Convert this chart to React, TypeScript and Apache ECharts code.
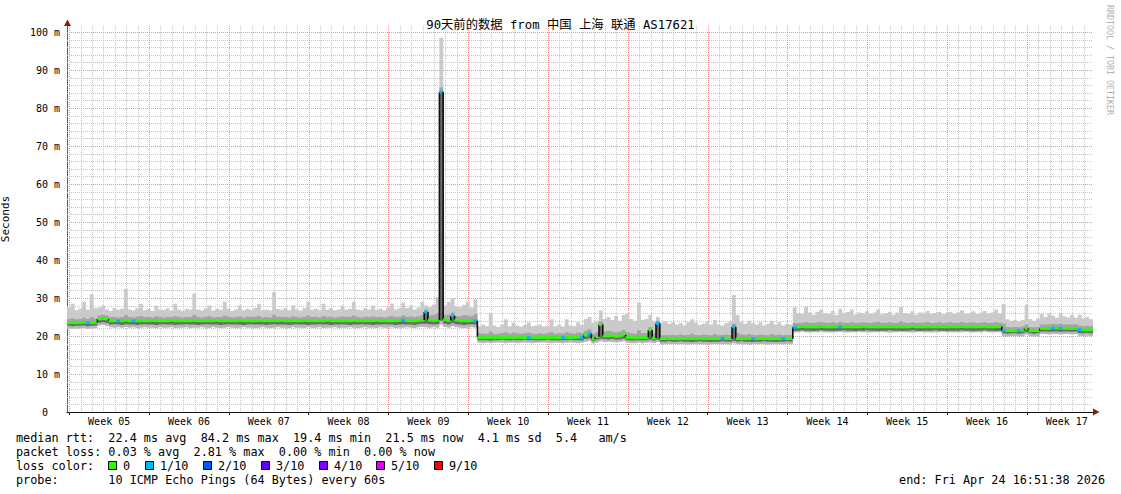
import React, { useEffect, useRef } from "react";
import * as echarts from "echarts";

// ---------- data ----------
const SAMPLES_PER_DAY = 3; // one sample every 8 hours
const DAYS = 90;
const Y_MAX = 101.6;
const FIRST_WEEK_LINE = 0.2; // day offset of first Monday grid line

const titleText = "90天前的数据 from 中国 上海 联通 AS17621";
const weekLabels = ["Week 05", "Week 06", "Week 07", "Week 08", "Week 09", "Week 10", "Week 11", "Week 12", "Week 13", "Week 14", "Week 15", "Week 16", "Week 17"];
const yTickValues = [0, 10, 20, 30, 40, 50, 60, 70, 80, 90, 100];

const medRtt = [
  23.5,23.5,23.5,23.5,23.6,23.5,23.5,23.6,24.5,24.6,
  24.5,24.0,24.0,24.0,24.0,24.1,24.0,24.0,24.0,24.0,
  24.0,24.0,24.1,24.0,24.0,24.0,24.0,24.1,24.0,24.0,
  24.0,24.0,24.0,24.1,24.0,24.0,24.0,24.0,24.0,24.1,
  24.0,24.0,24.0,24.0,24.0,24.1,24.0,24.0,24.0,24.0,
  24.1,24.0,24.0,24.0,24.0,24.0,24.1,24.0,24.0,24.0,
  24.0,24.0,24.1,24.0,24.0,24.0,24.0,24.0,24.1,24.0,
  24.0,24.0,24.0,24.0,24.0,24.1,24.0,24.0,24.0,24.0,
  24.0,24.1,24.0,24.0,24.0,24.0,24.0,24.1,24.2,24.0,
  24.0,24.0,24.1,24.2,26.3,24.2,24.1,24.2,84.2,24.3,
  24.1,25.3,24.2,24.0,24.0,24.0,24.1,24.0,19.6,19.6,
  19.6,19.6,19.5,19.6,19.6,19.6,19.6,19.5,19.6,19.6,
  19.6,19.6,19.6,19.5,19.6,19.6,19.6,19.6,19.6,19.5,
  19.6,19.6,19.6,19.6,19.7,19.6,20.2,20.6,19.2,19.8,
  23.0,20.0,20.0,20.1,19.9,20.0,20.3,19.6,19.6,19.5,
  19.6,19.6,19.6,21.6,19.5,23.3,19.3,19.3,19.3,19.3,
  19.3,19.3,19.3,19.3,19.3,19.3,19.4,19.3,19.3,19.3,
  19.3,19.3,19.4,19.3,19.3,22.4,19.3,19.3,19.3,19.3,
  19.3,19.3,19.3,19.3,19.3,19.3,19.3,19.3,19.3,19.3,
  19.3,22.3,22.4,22.5,22.4,22.4,22.4,22.4,22.5,22.4,
  22.4,22.4,22.4,22.4,22.4,22.4,22.4,22.4,22.4,22.5,
  22.4,22.4,22.4,22.4,22.4,22.4,22.4,22.4,22.4,22.4,
  22.4,22.4,22.5,22.4,22.4,22.4,22.4,22.4,22.4,22.4,
  22.4,22.4,22.4,22.4,22.4,22.5,22.4,22.4,22.4,22.4,
  22.4,22.4,22.4,22.4,22.4,22.5,21.4,21.4,21.4,21.4,
  21.4,21.5,22.0,21.4,21.4,21.4,22.0,22.0,22.0,22.1,
  22.1,22.0,22.0,22.0,22.0,22.0,21.7,21.6,21.6,21.6,
];

const hiRtt = [
  24.5,24.7,24.4,24.5,24.8,24.5,25.0,24.6,25.4,25.6,
  25.4,25.0,25.1,24.9,25.0,25.5,25.0,24.9,25.1,25.3,
  25.0,25.1,24.9,25.2,25.0,24.9,25.1,25.0,25.3,25.0,
  24.9,25.1,25.0,25.5,25.0,24.9,25.1,25.2,24.9,25.0,
  25.0,25.4,25.1,24.9,25.0,25.2,24.9,25.1,25.0,25.1,
  25.3,24.9,25.0,24.9,25.6,25.1,25.0,25.1,24.9,25.2,
  25.0,24.9,25.1,25.4,25.0,25.1,24.9,25.3,25.0,25.1,
  24.9,25.0,25.2,25.0,25.1,25.4,25.0,24.9,25.1,25.0,
  25.2,25.0,25.1,24.9,25.1,25.3,25.0,25.1,25.4,25.1,
  25.2,25.0,25.2,25.5,27.0,25.4,25.6,26.0,85.5,25.6,
  25.6,26.2,25.3,25.2,25.5,25.4,25.2,25.8,20.8,20.6,
  20.6,21.2,20.5,20.6,20.8,21.0,20.6,20.9,20.7,20.6,
  20.7,20.9,20.6,20.5,20.7,20.6,20.7,21.0,20.6,20.7,
  20.6,21.0,20.7,20.6,20.9,20.8,21.4,21.8,20.6,21.0,
  23.8,21.2,21.4,21.2,21.0,21.2,21.6,21.0,20.7,20.6,
  21.5,20.8,20.8,22.4,20.7,24.0,20.2,20.3,20.2,20.3,
  20.2,20.4,20.2,20.3,20.6,20.3,20.2,20.4,20.3,20.2,
  20.5,20.2,20.3,20.4,20.3,23.2,20.8,20.4,20.3,20.5,
  20.3,20.2,20.4,20.3,20.2,20.5,20.3,20.4,20.2,20.3,
  20.3,23.4,23.4,23.5,23.6,23.5,23.4,23.6,23.7,23.5,
  23.4,23.6,23.4,23.7,23.5,23.4,23.6,23.4,23.5,23.6,
  23.5,23.4,23.6,23.7,23.4,23.5,23.6,23.4,23.5,23.8,
  23.5,23.4,23.6,23.4,23.5,23.5,23.7,23.4,23.5,23.6,
  23.4,23.5,23.6,23.4,23.5,23.7,23.4,23.5,23.6,23.4,
  23.5,23.6,23.4,23.5,23.7,23.5,23.2,22.4,22.3,22.4,
  22.3,22.5,23.0,22.4,22.3,22.4,23.0,23.0,23.1,23.2,
  23.1,23.2,23.0,23.1,23.0,23.1,22.8,22.6,22.7,22.6,
];

const maxRtt = [
  27.6,28.5,26.8,27.2,29.0,26.9,31.0,27.3,27.5,28.0,
  27.0,26.6,27.4,26.9,27.2,32.4,27.0,26.7,27.4,28.5,
  26.8,27.1,26.6,28.0,27.0,26.9,27.3,26.7,28.5,27.0,
  26.6,27.2,26.9,31.2,27.0,26.8,27.3,28.0,26.7,27.1,
  26.9,29.0,27.2,26.6,27.0,28.0,26.8,27.2,26.9,27.4,
  28.5,26.8,27.0,26.7,31.6,27.1,26.9,27.4,26.8,28.0,
  27.0,26.7,27.3,29.0,26.9,27.2,26.8,28.5,27.0,27.3,
  26.8,27.0,28.0,26.9,27.2,29.0,27.0,26.8,27.4,27.0,
  28.0,26.9,27.2,26.8,27.5,28.5,27.0,27.3,28.8,27.4,
  28.0,27.0,27.5,29.0,28.0,27.6,28.2,30.3,98.5,28.0,
  29.0,30.0,27.8,27.6,28.2,29.0,27.5,29.7,22.6,23.0,
  22.6,26.0,22.8,22.4,23.0,24.4,22.6,23.5,22.8,22.5,
  22.9,23.6,22.6,22.8,23.0,22.5,22.7,24.4,22.6,23.0,
  22.5,24.4,22.8,22.6,23.6,22.9,24.5,25.0,23.5,24.0,
  26.7,24.5,25.0,24.2,25.3,24.0,25.5,26.0,24.5,24.0,
  28.8,24.2,24.5,25.5,24.0,25.0,23.5,23.8,23.2,23.6,
  23.0,23.4,22.8,23.6,24.4,23.5,22.9,23.2,23.8,23.0,
  24.2,23.0,22.8,23.4,23.8,30.8,25.5,23.6,23.2,24.0,
  23.4,23.0,23.6,22.8,23.2,24.0,23.0,23.6,22.8,23.2,
  23.0,27.6,26.0,25.8,27.7,26.2,25.6,26.4,27.0,26.0,
  25.8,26.6,25.5,27.2,26.0,26.3,27.0,25.6,26.2,25.9,
  26.5,25.8,26.2,27.0,25.7,26.0,26.4,25.6,26.2,27.7,
  26.0,25.8,26.5,25.6,26.2,25.9,26.6,25.8,26.0,26.3,
  25.7,26.1,26.4,25.8,26.2,26.8,25.9,26.0,26.5,25.8,
  26.1,26.6,25.9,26.2,27.0,26.0,28.4,24.4,24.0,24.3,
  23.9,24.2,28.2,24.5,24.0,24.6,25.8,25.0,26.0,25.4,
  24.8,26.0,25.2,24.9,25.5,24.8,25.6,24.6,25.0,24.4,
];

const loRtt = [
  22.7,22.6,22.7,22.7,22.8,22.6,22.7,22.8,23.5,23.6,
  23.4,23.0,23.1,23.0,22.9,23.1,23.0,23.0,22.9,23.0,
  23.1,23.0,23.0,22.9,23.0,23.1,23.0,23.0,22.9,23.0,
  23.0,23.1,23.0,23.0,22.9,23.0,23.1,23.0,23.0,23.0,
  22.9,23.0,23.1,23.0,23.0,23.0,22.9,23.0,23.1,23.0,
  23.0,23.0,22.9,23.0,23.1,23.0,23.0,23.0,22.9,23.0,
  23.1,23.0,23.0,22.9,23.0,23.0,23.1,23.0,23.0,22.9,
  23.0,23.0,23.1,23.0,22.9,23.0,23.0,23.1,23.0,23.0,
  22.9,23.0,23.0,23.1,23.0,23.0,22.9,23.0,23.1,23.0,
  23.0,22.9,23.1,23.2,23.2,23.1,23.0,23.1,24.0,23.2,
  23.0,23.4,23.1,23.0,22.9,23.0,23.1,23.0,18.9,18.9,
  18.9,18.8,18.9,18.9,19.0,18.9,18.8,18.9,18.9,18.9,
  19.0,18.9,18.9,18.8,18.9,18.9,19.0,18.9,18.9,18.8,
  18.9,18.9,19.0,18.9,18.9,18.8,19.2,19.4,18.6,19.0,
  19.3,19.2,19.1,19.2,19.0,19.1,19.3,18.9,18.8,18.8,
  18.9,18.8,18.9,19.0,18.8,19.0,18.5,18.5,18.6,18.5,
  18.5,18.6,18.5,18.5,18.4,18.5,18.6,18.5,18.5,18.4,
  18.5,18.5,18.6,18.5,18.5,18.7,18.5,18.6,18.5,18.5,
  18.4,18.5,18.5,18.6,18.5,18.5,18.4,18.5,18.5,18.6,
  18.5,21.4,21.4,21.5,21.4,21.4,21.3,21.4,21.5,21.4,
  21.4,21.3,21.4,21.4,21.5,21.4,21.4,21.3,21.4,21.4,
  21.5,21.4,21.4,21.3,21.4,21.4,21.5,21.4,21.4,21.3,
  21.4,21.4,21.5,21.4,21.3,21.4,21.4,21.4,21.5,21.4,
  21.4,21.3,21.4,21.4,21.4,21.5,21.4,21.4,21.3,21.4,
  21.4,21.5,21.4,21.4,21.3,21.4,20.7,20.6,20.7,20.7,
  20.6,20.7,21.0,20.7,20.6,20.7,21.2,21.2,21.1,21.2,
  21.2,21.1,21.2,21.2,21.1,21.2,20.8,20.7,20.8,20.7,
];

const minRtt = [
  21.9,22.0,21.9,22.0,22.1,21.9,22.0,22.1,22.8,22.9,
  22.7,22.3,22.2,22.3,22.2,22.4,22.2,22.3,22.1,22.2,
  22.3,22.2,22.2,22.1,22.3,22.2,22.2,22.3,22.1,22.2,
  22.2,22.3,22.1,22.2,22.2,22.3,22.2,22.1,22.3,22.2,
  22.1,22.2,22.3,22.2,22.1,22.2,22.3,22.2,22.2,22.1,
  22.2,22.3,22.2,22.1,22.2,22.3,22.2,22.2,22.1,22.3,
  22.2,22.2,22.1,22.3,22.2,22.2,22.3,22.1,22.2,22.2,
  22.3,22.1,22.2,22.2,22.3,22.2,22.1,22.2,22.3,22.2,
  22.2,22.1,22.3,22.2,22.2,22.3,22.1,22.2,22.2,22.3,
  22.2,22.1,22.3,22.4,22.3,22.2,22.3,22.2,23.0,22.4,
  22.2,22.6,22.3,22.2,22.1,22.2,22.3,22.2,18.2,18.1,
  18.2,18.1,18.2,18.3,18.2,18.1,18.2,18.2,18.1,18.2,
  18.3,18.2,18.1,18.2,18.2,18.3,18.2,18.1,18.2,18.2,
  18.1,18.2,18.3,18.2,18.1,18.2,18.5,18.7,18.0,18.3,
  18.6,18.4,18.5,18.4,18.3,18.4,18.6,18.2,18.1,18.1,
  18.2,18.1,18.2,18.3,18.1,18.4,17.8,17.8,17.9,17.8,
  17.8,17.9,17.8,17.7,17.8,17.9,17.8,17.8,17.7,17.8,
  17.9,17.8,17.8,17.9,17.8,18.0,17.8,17.9,17.8,17.7,
  17.8,17.8,17.9,17.8,17.7,17.8,17.9,17.8,17.8,17.9,
  17.8,20.9,21.0,21.1,21.0,20.9,21.0,21.0,21.1,21.0,
  20.9,21.0,21.0,21.1,21.0,20.9,21.0,21.0,21.1,21.0,
  21.0,20.9,21.0,21.0,21.1,21.0,20.9,21.0,21.0,21.1,
  21.0,21.0,20.9,21.0,21.1,21.0,21.0,20.9,21.0,21.0,
  21.1,21.0,21.0,20.9,21.0,21.0,21.1,21.0,20.9,21.0,
  21.0,21.1,21.0,20.9,21.0,21.0,20.0,19.9,20.0,20.0,
  19.9,20.0,20.4,20.0,19.9,20.0,20.5,20.5,20.4,20.5,
  20.5,20.4,20.5,20.5,20.4,20.5,20.1,20.0,20.1,20.0,
];

// samples whose packet loss was 1/10
const lossOneTenth = [5, 13, 17, 88, 94, 98, 101, 107, 121, 130, 135, 137, 155, 172, 175, 180, 188, 191, 203, 246, 250, 259, 261, 266];

const lossColors = ["#26ff00", "#00b8ff", "#0059ff", "#5e00ff", "#7e00ff", "#dd00ff", "#ff0000"];
const lossLegend = ["0", "1/10", "2/10", "3/10", "4/10", "5/10", "9/10"];

const statsLines = [
  "median rtt:  22.4 ms avg  84.2 ms max  19.4 ms min  21.5 ms now  4.1 ms sd  5.4   am/s",
  "packet loss: 0.03 % avg  2.81 % max  0.00 % min  0.00 % now",
];
const lossLabel = "loss color:";
const probeText = "probe:       10 ICMP Echo Pings (64 Bytes) every 60s";
const endText = "end: Fri Apr 24 16:51:38 2026";
const watermark = "RRDTOOL / TOBI OETIKER";

// ---------- styling ----------
const MONO = '"DejaVu Sans Mono", monospace';
const RED_GRID = "#f09090";
const GREY_GRID = "#c6c6c6";
const ARROW = "#8c1c1c";
const CHAR_W = 7.1;
const nb = (s: string) => s.replace(/ /g, "\u00a0");

function buildOption() {
  const N = medRtt.length;
  const weekLines = weekLabels.map((_, k) => FIRST_WEEK_LINE + 7 * k);
  const weekCenters = weekLines.map((d) => d + 3.5);

  // grid lines: kind 0 = minor vertical, 1 = major vertical, 2 = minor horizontal, 3 = major horizontal
  const gridLines: number[][] = [];
  for (let v = 2; v < 100; v += 2) if (v % 10 !== 0) gridLines.push([2, v]);
  for (let k = 0; k < DAYS; k++) if (k % 7 !== 0) gridLines.push([0, FIRST_WEEK_LINE + k]);
  yTickValues.forEach((v) => { if (v > 0) gridLines.push([3, v]); });
  weekLines.forEach((d) => gridLines.push([1, d]));

  const smokeBands: [number[], number[], string][] = [
    [maxRtt, medRtt, "#cacaca"],
    [medRtt, minRtt, "#b8b8b8"],
    [hiRtt, medRtt, "#a4a4a4"],
    [medRtt, loRtt, "#6a6a6a"],
  ];

  const medData = medRtt.map((m, i) => [i / SAMPLES_PER_DAY, m, i > 0 ? medRtt[i - 1] : m, lossOneTenth.includes(i) ? 1 : 0]);

  // legend swatch positions
  const swatches: any[] = [];
  let bx = 16 + 13 * CHAR_W;
  lossLegend.forEach((lab, k) => {
    swatches.push({
      type: "rect", silent: true,
      shape: { x: Math.round(bx) + 0.5, y: 461.5, width: 8, height: 8 },
      style: { fill: lossColors[k], stroke: "#000", lineWidth: 1 },
    });
    swatches.push({
      type: "text", silent: true, x: Math.round(bx) + 15, y: 466,
      style: { text: lab, font: `11.8px ${MONO}`, fill: "#000", align: "left", verticalAlign: "middle" },
    });
    bx += 15 + lab.length * CHAR_W + 14.5;
  });

  return {
    animation: false,
    backgroundColor: "#ffffff",
    title: {
      text: titleText,
      left: "center",
      top: 14,
      textStyle: { fontFamily: '"DejaVu Sans Mono", "Noto Sans CJK SC", monospace', fontSize: 12.3, fontWeight: "normal", color: "#000" },
    },
    grid: { left: 67, right: 28, top: 26, bottom: 82, containLabel: false, outerBoundsMode: "none" },
    xAxis: {
      type: "value", min: 0, max: DAYS,
      axisLine: { show: true, lineStyle: { color: "#111", width: 1 } },
      axisTick: { show: true, customValues: weekLines, length: 3, lineStyle: { color: "#222" } },
      axisLabel: {
        customValues: weekCenters,
        formatter: (v: number) => weekLabels[Math.round((v - FIRST_WEEK_LINE - 3.5) / 7)] || "",
        fontFamily: MONO, fontSize: 10, color: "#000", margin: 4,
      },
      splitLine: { show: false },
    },
    yAxis: {
      type: "value", min: 0, max: Y_MAX, interval: 10,
      axisLine: { show: true, lineStyle: { color: "#5a5a5a", width: 1 } },
      axisTick: { show: false },
      axisLabel: {
        formatter: (v: number) => {
          const r = Math.round(v);
          if (Math.abs(v - r) > 1e-6 || !yTickValues.includes(r)) return "";
          return r === 0 ? "0\u00a0\u00a0" : r + "\u00a0m";
        },
        fontFamily: MONO, fontSize: 10, color: "#000", margin: 7,
      },
      splitLine: { show: false },
      name: "Seconds", nameLocation: "middle", nameGap: 56, nameRotate: 90,
      nameTextStyle: { fontFamily: MONO, fontSize: 11, color: "#000" },
    },
    series: [
      {
        type: "custom", name: "grid", silent: true, z: 1,
        data: gridLines,
        renderItem: (params: any, api: any) => {
          const kind = api.value(0);
          const v = api.value(1);
          const p0 = api.coord([0, 0]);
          const p1 = api.coord([DAYS, Y_MAX]);
          const color = kind === 1 || kind === 3 ? RED_GRID : GREY_GRID;
          if (kind <= 1) {
            const x = Math.round(api.coord([v, 0])[0]) + 0.5;
            return { type: "line", shape: { x1: x, y1: p1[1], x2: x, y2: p0[1] }, style: { stroke: color, lineWidth: 1, lineDash: [1, 1] } };
          }
          const y = Math.round(api.coord([0, v])[1]) + 0.5;
          return { type: "line", shape: { x1: p0[0], y1: y, x2: p1[0], y2: y }, style: { stroke: color, lineWidth: 1, lineDash: [1, 1] } };
        },
      },
      {
        type: "custom", name: "smoke", silent: true, z: 2,
        data: smokeBands.map((_, k) => [k, 0]),
        renderItem: (params: any, api: any) => {
          const [U, L, fill] = smokeBands[params.dataIndex];
          const pts: number[][] = [];
          for (let i = 0; i < N; i++) {
            pts.push(api.coord([i / SAMPLES_PER_DAY, U[i]]));
            pts.push(api.coord([(i + 1) / SAMPLES_PER_DAY, U[i]]));
          }
          for (let i = N - 1; i >= 0; i--) {
            pts.push(api.coord([(i + 1) / SAMPLES_PER_DAY, L[i]]));
            pts.push(api.coord([i / SAMPLES_PER_DAY, L[i]]));
          }
          return { type: "polygon", shape: { points: pts }, style: { fill } };
        },
      },
      {
        type: "custom", name: "median rtt", silent: true, z: 3,
        data: medData,
        renderItem: (params: any, api: any) => {
          const t = api.value(0);
          const x0 = api.coord([t, 0])[0];
          const x1 = api.coord([t + 1 / SAMPLES_PER_DAY, 0])[0];
          const y = api.coord([0, api.value(1)])[1];
          const yp = api.coord([0, api.value(2)])[1];
          const children: any[] = [];
          if (Math.abs(y - yp) > 1.6) {
            children.push({ type: "line", shape: { x1: x0, y1: yp, x2: x0, y2: y }, style: { stroke: "#111", lineWidth: 1.6 } });
          }
          children.push({ type: "rect", shape: { x: x0, y: y - 1.4, width: x1 - x0 + 0.3, height: 2.8 }, style: { fill: lossColors[api.value(3)] } });
          return { type: "group", children };
        },
      },
    ],
    graphic: [
      { type: "polygon", silent: true, shape: { points: [[64, 26], [67.5, 19.5], [71, 26]] }, style: { fill: ARROW } },
      { type: "polygon", silent: true, shape: { points: [[1093, 408.5], [1099.5, 412], [1093, 415.5]] }, style: { fill: ARROW } },
      {
        type: "text", silent: true, x: 1110, y: 5, rotation: -Math.PI / 2,
        style: { text: watermark, font: `8.3px ${MONO}`, fill: "#b0b0b0", align: "left", verticalAlign: "middle" },
      },
      ...statsLines.map((t, k) => ({
        type: "text", silent: true, x: 16, y: 438 + 14 * k,
        style: { text: nb(t), font: `11.8px ${MONO}`, fill: "#000", align: "left", verticalAlign: "middle" },
      })),
      {
        type: "text", silent: true, x: 16, y: 466,
        style: { text: lossLabel, font: `11.8px ${MONO}`, fill: "#000", align: "left", verticalAlign: "middle" },
      },
      ...swatches,
      {
        type: "text", silent: true, x: 16, y: 480,
        style: { text: nb(probeText), font: `11.8px ${MONO}`, fill: "#000", align: "left", verticalAlign: "middle" },
      },
      {
        type: "text", silent: true, x: 1105, y: 480,
        style: { text: nb(endText), font: `11.8px ${MONO}`, fill: "#000", align: "right", verticalAlign: "middle" },
      },
    ],
  };
}

export default function App() {
  const ref = useRef<HTMLDivElement>(null);
  useEffect(() => {
    document.body.style.margin = "0";
    if (!ref.current) return;
    const chart = echarts.init(ref.current, undefined, { renderer: "svg" });
    chart.setOption(buildOption() as any);
    return () => chart.dispose();
  }, []);
  return <div ref={ref} style={{ width: 1121, height: 494 }} />;
}
